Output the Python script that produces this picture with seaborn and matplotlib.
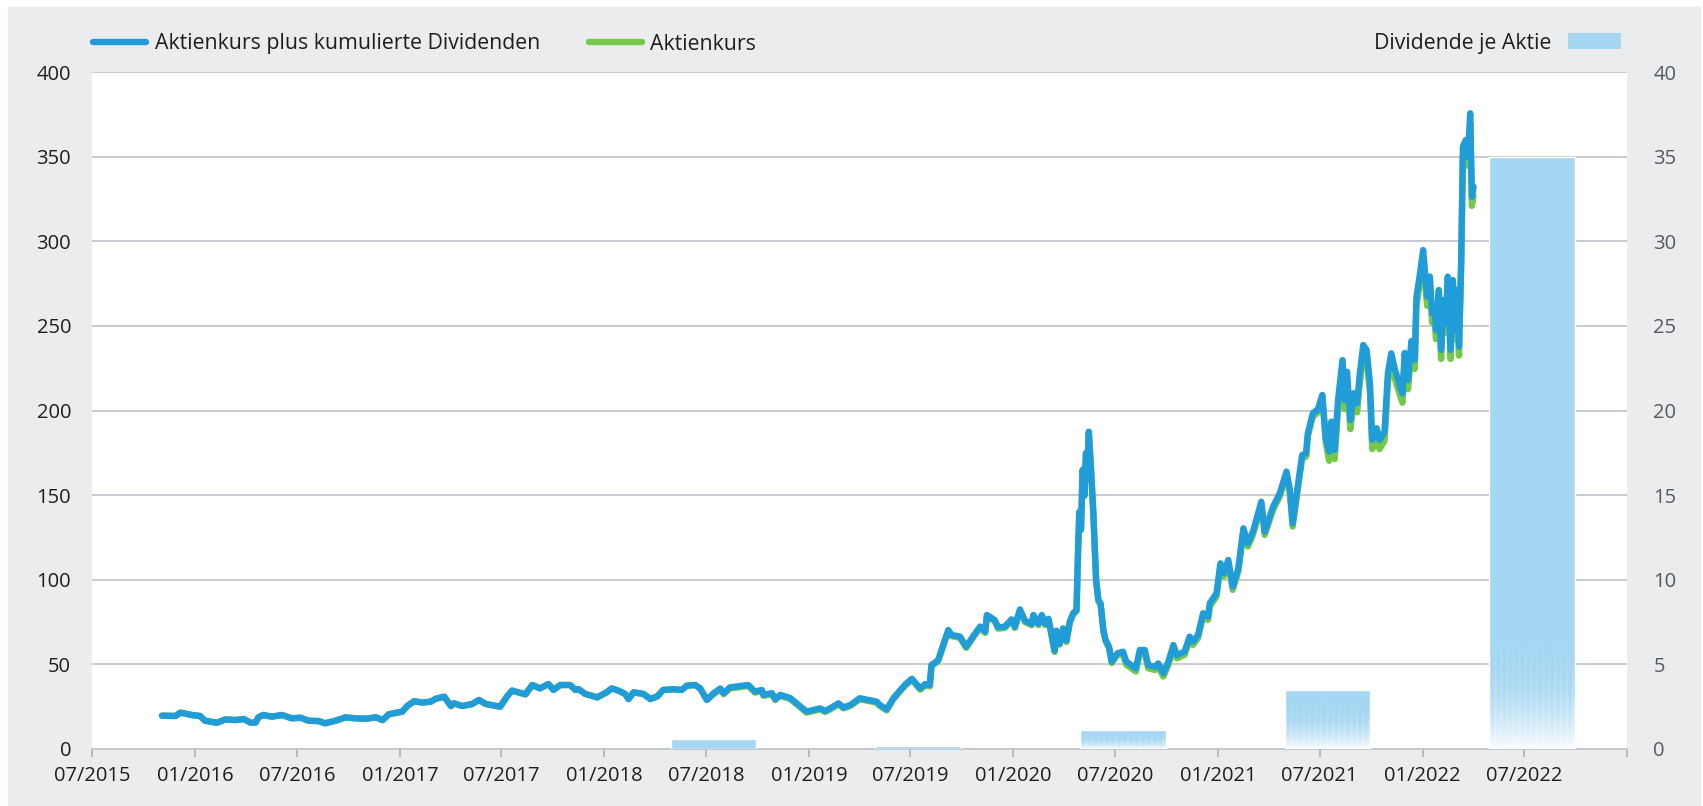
import numpy as np
import pandas as pd
import matplotlib
matplotlib.use("Agg")
import matplotlib.pyplot as plt
from matplotlib.lines import Line2D
from matplotlib.patches import Rectangle, Patch
import seaborn as sns

# Aktienkurs plus kumulierte Dividenden
datum = [
    "2015-11-03", "2015-11-27", "2015-12-06", "2015-12-26", "2016-01-10", "2016-01-19",
    "2016-02-09", "2016-02-24", "2016-03-13", "2016-03-28", "2016-04-09", "2016-04-18",
    "2016-04-23", "2016-05-02", "2016-05-17", "2016-06-04", "2016-06-22", "2016-07-07",
    "2016-07-22", "2016-08-09", "2016-08-20", "2016-09-08", "2016-09-26", "2016-10-14",
    "2016-11-01", "2016-11-19", "2016-12-01", "2016-12-12", "2017-01-05", "2017-01-14",
    "2017-01-26", "2017-02-10", "2017-02-25", "2017-03-06", "2017-03-21", "2017-04-02",
    "2017-04-07", "2017-04-22", "2017-05-10", "2017-05-22", "2017-06-03", "2017-06-29",
    "2017-07-11", "2017-07-20", "2017-08-13", "2017-08-25", "2017-09-08", "2017-09-23",
    "2017-10-02", "2017-10-14", "2017-11-01", "2017-11-10", "2017-11-16", "2017-11-28",
    "2017-12-19", "2018-01-05", "2018-01-14", "2018-01-26", "2018-02-07", "2018-02-13",
    "2018-02-22", "2018-03-12", "2018-03-24", "2018-04-05", "2018-04-16", "2018-05-04",
    "2018-05-19", "2018-05-28", "2018-06-12", "2018-06-21", "2018-07-03", "2018-07-15",
    "2018-07-27", "2018-08-02", "2018-08-13", "2018-08-31", "2018-09-15", "2018-09-27",
    "2018-10-09", "2018-10-12", "2018-10-27", "2018-11-02", "2018-11-11", "2018-11-29",
    "2018-12-16", "2018-12-28", "2019-01-21", "2019-01-30", "2019-02-08", "2019-02-23",
    "2019-03-04", "2019-03-16", "2019-04-02", "2019-04-17", "2019-05-02", "2019-05-08",
    "2019-05-20", "2019-06-01", "2019-06-10", "2019-06-22", "2019-07-04", "2019-07-19",
    "2019-07-28", "2019-08-05", "2019-08-08", "2019-08-20", "2019-08-26", "2019-09-07",
    "2019-09-13", "2019-09-28", "2019-10-09", "2019-10-25", "2019-11-03", "2019-11-12",
    "2019-11-15", "2019-11-29", "2019-12-05", "2019-12-17", "2019-12-29", "2020-01-04",
    "2020-01-13", "2020-01-22", "2020-02-03", "2020-02-06", "2020-02-15", "2020-02-21",
    "2020-02-27", "2020-03-04", "2020-03-09", "2020-03-15", "2020-03-18", "2020-03-24",
    "2020-03-30", "2020-04-05", "2020-04-11", "2020-04-17", "2020-04-23", "2020-04-26",
    "2020-04-28", "2020-05-01", "2020-05-04", "2020-05-07", "2020-05-10", "2020-05-12",
    "2020-05-15", "2020-05-19", "2020-05-23", "2020-05-28", "2020-06-01", "2020-06-05",
    "2020-06-10", "2020-06-14", "2020-06-20", "2020-06-25", "2020-07-05", "2020-07-15",
    "2020-07-21", "2020-08-07", "2020-08-14", "2020-08-23", "2020-08-29", "2020-09-10",
    "2020-09-16", "2020-09-25", "2020-10-04", "2020-10-13", "2020-10-19", "2020-11-02",
    "2020-11-11", "2020-11-17", "2020-11-26", "2020-12-05", "2020-12-14", "2020-12-17",
    "2020-12-29", "2021-01-05", "2021-01-11", "2021-01-19", "2021-01-27", "2021-02-06",
    "2021-02-15", "2021-02-23", "2021-03-04", "2021-03-10", "2021-03-19", "2021-03-25",
    "2021-04-03", "2021-04-09", "2021-04-21", "2021-05-03", "2021-05-09", "2021-05-14",
    "2021-05-23", "2021-05-31", "2021-06-07", "2021-06-10", "2021-06-19", "2021-06-28",
    "2021-07-06", "2021-07-12", "2021-07-18", "2021-07-22", "2021-07-28", "2021-08-03",
    "2021-08-11", "2021-08-15", "2021-08-19", "2021-08-25", "2021-08-31", "2021-09-06",
    "2021-09-11", "2021-09-17", "2021-09-23", "2021-09-29", "2021-10-03", "2021-10-11",
    "2021-10-16", "2021-10-25", "2021-10-31", "2021-11-06", "2021-11-12", "2021-11-20",
    "2021-11-26", "2021-11-30", "2021-12-06", "2021-12-12", "2021-12-18", "2021-12-21",
    "2021-12-27", "2022-01-02", "2022-01-06", "2022-01-09", "2022-01-14", "2022-01-18",
    "2022-01-22", "2022-01-25", "2022-01-30", "2022-02-03", "2022-02-07", "2022-02-11",
    "2022-02-15", "2022-02-20", "2022-02-24", "2022-03-01", "2022-03-03", "2022-03-07",
    "2022-03-11", "2022-03-14", "2022-03-19", "2022-03-23", "2022-03-27", "2022-03-30",
    "2022-04-02",
]
kurs_plus_div = [
    19.7, 19.5, 21.5, 20.1, 19.5, 16.7,
    15.5, 17.5, 17.1, 17.7, 15.6, 15.6,
    18.7, 20.1, 19.1, 20.1, 18.1, 18.5,
    16.7, 16.5, 15.2, 16.7, 18.7, 18.1,
    17.9, 18.7, 17.1, 20.5, 22.1, 25.4,
    28.2, 27.4, 28.0, 29.7, 30.9, 25.4,
    27.0, 25.4, 26.6, 29.0, 26.6, 25.0,
    31.0, 34.5, 32.3, 37.8, 35.8, 38.4,
    34.9, 37.8, 37.8, 34.9, 35.3, 32.5,
    30.5, 33.5, 35.8, 34.5, 32.5, 29.5,
    33.5, 32.5, 29.5, 31.0, 34.9, 35.3,
    34.9, 37.4, 37.8, 35.8, 29.0, 33.0,
    35.8, 33.0, 36.4, 37.2, 37.8, 33.9,
    34.9, 32.0, 33.0, 29.5, 32.0, 30.1,
    25.4, 22.1, 24.0, 22.5, 24.0, 27.0,
    24.6, 26.0, 30.0, 29.0, 28.0, 26.0,
    23.4, 30.0, 33.5, 38.0, 41.5, 35.8,
    38.4, 37.8, 49.6, 52.6, 58.5, 70.3,
    67.4, 66.4, 60.5, 68.3, 72.3, 69.3,
    79.2, 76.2, 71.9, 72.3, 76.6, 72.3,
    82.5, 75.8, 73.9, 79.2, 74.0, 79.2,
    74.0, 76.9, 68.3, 58.1, 69.9, 62.4,
    71.3, 64.0, 75.2, 80.2, 82.1, 119.5,
    140.2, 130.0, 165.0, 150.0, 175.0, 160.0,
    187.5, 165.0, 140.0, 100.0, 88.0, 86.1,
    70.3, 64.4, 60.5, 51.6, 56.5, 57.5,
    51.6, 47.7, 58.5, 58.5, 49.6, 48.6,
    50.6, 44.7, 51.6, 61.4, 55.5, 57.5,
    66.4, 63.4, 67.4, 80.2, 78.2, 86.1,
    92.0, 109.7, 103.8, 111.7, 95.9, 106.8,
    130.4, 121.5, 128.4, 135.3, 146.1, 128.4,
    137.3, 143.2, 151.1, 163.9, 153.0, 133.3,
    155.0, 173.7, 174.7, 186.5, 198.3, 200.7,
    209.2, 183.6, 175.7, 193.4, 176.7, 206.2,
    229.8, 206.2, 222.9, 194.4, 210.2, 204.3,
    222.0, 238.7, 235.8, 216.1, 182.6, 189.5,
    182.6, 187.5, 222.0, 233.8, 225.0, 216.1,
    210.0, 234.0, 218.0, 241.0, 230.0, 267.0,
    280.0, 294.8, 279.1, 267.3, 279.1, 257.4,
    261.4, 247.6, 271.2, 235.8, 265.3, 251.5,
    279.1, 235.8, 277.1, 247.6, 271.2, 237.8,
    290.9, 355.9, 359.8, 350.0, 375.6, 326.3,
    332.2,
]

# Dividende je Aktie
div_datum = ["2018-07-15", "2019-07-15", "2020-07-15", "2021-07-15", "2022-07-15"]
dividende = [0.6, 0.15, 1.15, 3.5, 35.0]

tick_datum = pd.date_range("2015-07-01", "2023-01-01", freq="6MS")
tick_labels = [d.strftime("%m/%Y") for d in tick_datum[:-1]] + [""]

df = pd.DataFrame({"datum": pd.to_datetime(datum), "plus_div": kurs_plus_div})
div_df = pd.DataFrame({"datum": pd.to_datetime(div_datum), "dividende": dividende})
kum = [div_df.loc[div_df["datum"] <= d, "dividende"].sum() for d in df["datum"]]
df["kurs"] = df["plus_div"] - np.array(kum)

BLUE = "#209dd8"
GREEN = "#74c948"
BAR = "#a6d7f2"
GRID = "#b9bec4"
DARK = "#1e1e1e"

sns.set_theme(style="white")
plt.rcParams["font.family"] = ["Open Sans", "DejaVu Sans"]

W, H = 1703, 806
fig = plt.figure(figsize=(W / 100, H / 100), dpi=100)
fig.add_artist(Rectangle((8 / W, 0), (1700 - 8) / W, 1 - 7 / H,
                         transform=fig.transFigure, color="#ebecee", zorder=-10))

ax = fig.add_axes([92 / W, 57 / H, 1535 / W, 677 / H])
ax.set_facecolor("white")

sns.lineplot(data=df, x="datum", y="kurs", ax=ax, color=GREEN, linewidth=4.6,
             estimator=None, sort=False, solid_joinstyle="round")
sns.lineplot(data=df, x="datum", y="plus_div", ax=ax, color=BLUE, linewidth=4.6,
             estimator=None, sort=False, solid_joinstyle="round")

ax.set_ylim(0, 400)
ax.set_yticks(range(0, 401, 50))
ax.yaxis.grid(True, color=GRID, linewidth=1.1)
ax.set_axisbelow(True)
ax.set_xlim(tick_datum[0], tick_datum[-1])
ax.set_xticks(tick_datum)
ax.set_xticklabels(tick_labels)
ax.set_xlabel("")
ax.set_ylabel("")
for s in ["left", "right", "top"]:
    ax.spines[s].set_visible(False)
ax.spines["bottom"].set_color("#c3c7cc")
ax.spines["bottom"].set_linewidth(1.3)
ax.tick_params(axis="x", length=6, width=1.2, color="#aab0b6", pad=6,
               labelsize=14.5, labelcolor=DARK, bottom=True)
ax.tick_params(axis="y", length=0, pad=15, labelsize=14.5, labelcolor=DARK)

# Dividenden (rechte Achse)
ax2 = ax.twinx()
bars = ax2.bar(div_df["datum"], div_df["dividende"], width=153, color=BAR, zorder=2)
ax2.set_ylim(0, 40)
ax2.set_yticks(range(0, 41, 5))
for s in ["left", "right", "top", "bottom"]:
    ax2.spines[s].set_visible(False)
ax2.tick_params(axis="y", length=0, pad=19, labelsize=14.5, labelcolor="#555a5f")

# ausgeblendeter unterer Bereich der Balken (nur bei hoeheren Balken)
for rect in bars:
    h = rect.get_height()
    if h < 1:
        continue
    x0 = rect.get_x()
    x1 = x0 + rect.get_width()
    top = min(h, 8.0)
    ncol = 110
    yy = np.linspace(0, top, 200)[:, None]
    cols = np.arange(ncol)[None, :]
    streak = np.abs(np.sin(cols * 1.37) * np.cos(cols * 0.41))
    reach = top * (0.45 + 0.5 * streak)
    alpha = 0.95 * np.clip(1 - yy / reach, 0, 1) ** 1.6
    img = np.ones((200, ncol, 4))
    img[..., 3] = alpha
    im = ax2.imshow(img, extent=[x0, x1, 0, top], origin="lower",
                    aspect="auto", zorder=3, interpolation="bilinear")
    im.set_clip_path(rect)
ax2.set_xlim(tick_datum[0], tick_datum[-1])
ax2.set_ylim(0, 40)

# Legenden
h1 = [Line2D([], [], color=BLUE, linewidth=4.6), Line2D([], [], color=GREEN, linewidth=4.6)]
fig.legend(handles=h1, labels=["Aktienkurs plus kumulierte Dividenden", "Aktienkurs"],
           loc="center left", bbox_to_anchor=(93 / W, 1 - 44 / H), ncol=2, frameon=False,
           fontsize=15.3, handlelength=2.5, handletextpad=0.4, columnspacing=2.3,
           borderpad=0, borderaxespad=0, labelcolor=DARK)
fig.legend(handles=[Patch(facecolor=BAR, edgecolor="none")], labels=["Dividende je Aktie"],
           loc="center right", bbox_to_anchor=(1621 / W, 1 - 43 / H), frameon=False,
           fontsize=15.3, handlelength=2.5, handleheight=0.75, handletextpad=0.8,
           markerfirst=False, borderpad=0, borderaxespad=0, labelcolor=DARK)

fig.savefig("out.png", dpi=100)
